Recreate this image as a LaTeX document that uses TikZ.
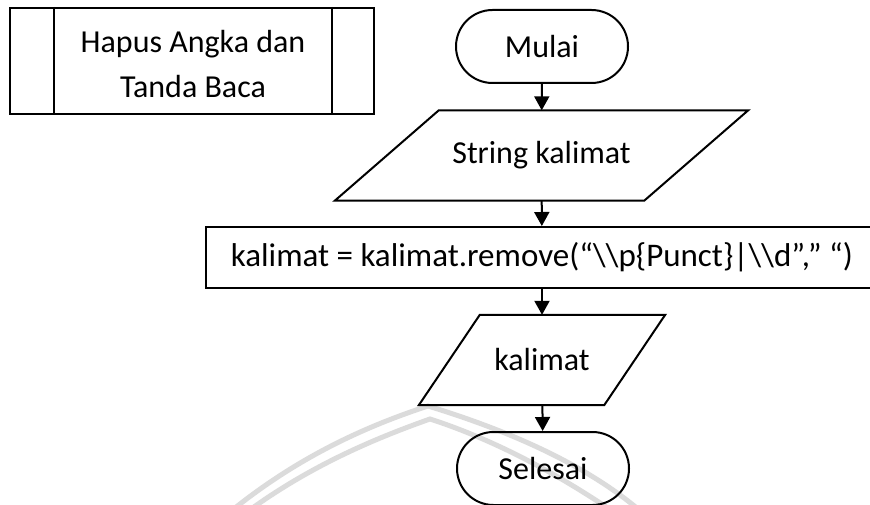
\documentclass[tikz,border=0pt]{standalone}
\usepackage{fontspec}
\setmainfont{Carlito}
\usetikzlibrary{arrows.meta,calc}
\begin{document}
\begin{tikzpicture}[x=1pt,y=-1pt,
  outline/.style={draw=black,line width=2pt},
  flowtext/.style={font=\fontsize{32}{45}\selectfont,align=center,inner sep=0pt},
  terminal/.style={outline,flowtext,rounded corners=36.5pt,minimum width=172pt,minimum height=73pt},
  procbox/.style={outline,flowtext,minimum width=672pt,minimum height=61pt},
  iobox/.style={flowtext,minimum height=90pt},
  flow/.style={line width=2pt,-{Triangle[width=15pt,length=14pt]}},
  emblemline/.style={draw=black!14,line width=5pt,line cap=round}
]
\useasboundingbox (0,0) rectangle (870,505);
\begin{scope}
\clip (0,0) rectangle (870,505);
% faint background emblem lines
\draw[emblemline] (230,512) .. controls (300,455) and (370,425) .. (428,406)
                      .. controls (500,428) and (585,462) .. (645,515);
\draw[emblemline] (247,512) .. controls (315,462) and (385,435) .. (430,419)
                      .. controls (495,440) and (560,475) .. (618,515);
\end{scope}

% predefined process box
\node[outline,minimum width=364pt,minimum height=106pt,inner sep=0pt] (sub) at (192,61) {};
\draw[outline] ([xshift=45pt]sub.north west) -- ([xshift=45pt]sub.south west);
\draw[outline] ([xshift=-43pt]sub.north east) -- ([xshift=-43pt]sub.south east);
\node[flowtext] (subtext) at (193,64) {Hapus Angka dan\\Tanda Baca};

% main flow
\node[terminal] (start) at (542,46.5) {Mulai};
\node[iobox,minimum width=413pt] (input) at (541.5,155.5) {String kalimat};
\draw[outline] ([xshift=104pt]input.north west) -- (input.north east)
  -- ([xshift=-104pt]input.south east) -- (input.south west) -- cycle;
\node[procbox,font=\fontsize{33}{45}\selectfont] (proc) at (542,257.5) {kalimat = kalimat.remove(“\textbackslash\textbackslash p\{Punct\}|\textbackslash\textbackslash d”,” “)};
\node[iobox,minimum width=246pt] (output) at (542,360) {kalimat};
\draw[outline] ([xshift=61pt]output.north west) -- (output.north east)
  -- ([xshift=-61pt]output.south east) -- (output.south west) -- cycle;
\node[terminal] (stop) at (543,468.5) {Selesai};

\draw[flow] (start) -- (input);
\draw[flow] (input) -- (proc);
\draw[flow] (proc) -- (output);
\draw[flow] (output) -- (stop);
\end{tikzpicture}
\end{document}
